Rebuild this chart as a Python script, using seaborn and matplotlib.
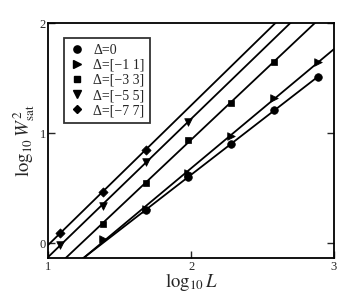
import numpy as np
import pandas as pd
import matplotlib
matplotlib.use("Agg")
import matplotlib.pyplot as plt
from matplotlib.lines import Line2D
import seaborn as sns

# ---- data ----
labels = ["Δ=0", "Δ=[−1 1]", "Δ=[−3 3]", "Δ=[−5 5]", "Δ=[−7 7]"]
x_d0 = [1.68, 1.98, 2.28, 2.58, 2.89]
y_d0 = [0.30, 0.60, 0.90, 1.21, 1.51]
x_d1 = [1.38, 1.68, 1.98, 2.28, 2.58, 2.89]
y_d1 = [0.04, 0.31, 0.64, 0.975, 1.32, 1.65]
x_d3 = [1.38, 1.68, 1.98, 2.28, 2.58]
y_d3 = [0.17, 0.55, 0.94, 1.27, 1.645]
x_d5 = [1.08, 1.38, 1.68, 1.98]
y_d5 = [-0.02, 0.34, 0.74, 1.10]
x_d7 = [1.08, 1.38, 1.68]
y_d7 = [0.09, 0.46, 0.85]
# x-extent of each fitted line
line_xmax = [2.89, 3.0, 3.0, 3.0, 3.0]

xs = [x_d0, x_d1, x_d3, x_d5, x_d7]
ys = [y_d0, y_d1, y_d3, y_d5, y_d7]
markers = ["o", ">", "s", "v", "D"]
msizes = [30, 30, 24, 30, 22]

sns.set_theme(style="ticks")
plt.rcParams["font.family"] = ["Liberation Serif", "DejaVu Serif"]
plt.rcParams["mathtext.fontset"] = "stix"

fig = plt.figure(figsize=(3.4, 2.93), dpi=100)
ax = fig.add_axes([0.1426, 0.1195, 0.8394, 0.802])

rows = []
for lab, x, y in zip(labels, xs, ys):
    for a, b in zip(x, y):
        rows.append({"x": a, "y": b, "label": lab})
df = pd.DataFrame(rows)

# fitted straight lines
line_rows = []
for lab, x, y, xm in zip(labels, xs, ys, line_xmax):
    k, c = np.polyfit(x, y, 1)
    xl = np.array([0.9, xm])
    for a in xl:
        line_rows.append({"x": a, "y": k * a + c, "label": lab})
dl = pd.DataFrame(line_rows)
for lab in labels:
    sns.lineplot(data=dl[dl["label"] == lab], x="x", y="y", color="black",
                 linewidth=1.3, ax=ax, legend=False, sort=False)

for lab, m, s in zip(labels, markers, msizes):
    sns.scatterplot(data=df[df["label"] == lab], x="x", y="y", marker=m,
                    s=s, color="black", edgecolor="black", linewidth=0.5,
                    ax=ax, legend=False, zorder=5)

ax.set_xlim(1, 3)
ax.set_ylim(-0.136, 2)
ax.set_xticks([1, 2, 3])
ax.set_yticks([0, 1, 2])
ax.set_xticklabels(["1", "2", "3"])
ax.set_yticklabels(["0", "1", "2"])
ax.tick_params(direction="in", length=5, width=1, labelsize=9,
               right=True, top=False, pad=2)
for sp in ax.spines.values():
    sp.set_linewidth(1.3)
    sp.set_color("black")

ax.set_xlabel(r"$\log_{10}L$", fontsize=13.5, labelpad=-1)
ax.set_ylabel(r"$\log_{10}W^2_{\mathrm{sat}}$", fontsize=13.5, labelpad=2)

handles = [Line2D([], [], linestyle="none", marker=m, color="black",
                  markersize=(s ** 0.5) * 0.95) for m, s in zip(markers, msizes)]
leg = ax.legend(handles, labels, loc="upper left", bbox_to_anchor=(0.055, 0.935),
                fontsize=10, frameon=True, fancybox=False, handlelength=1.0,
                handletextpad=0.7, labelspacing=0.15, borderpad=0.4,
                borderaxespad=0)
leg.get_frame().set_edgecolor("black")
leg.get_frame().set_linewidth(1.3)

fig.savefig("out.png", dpi=100)
